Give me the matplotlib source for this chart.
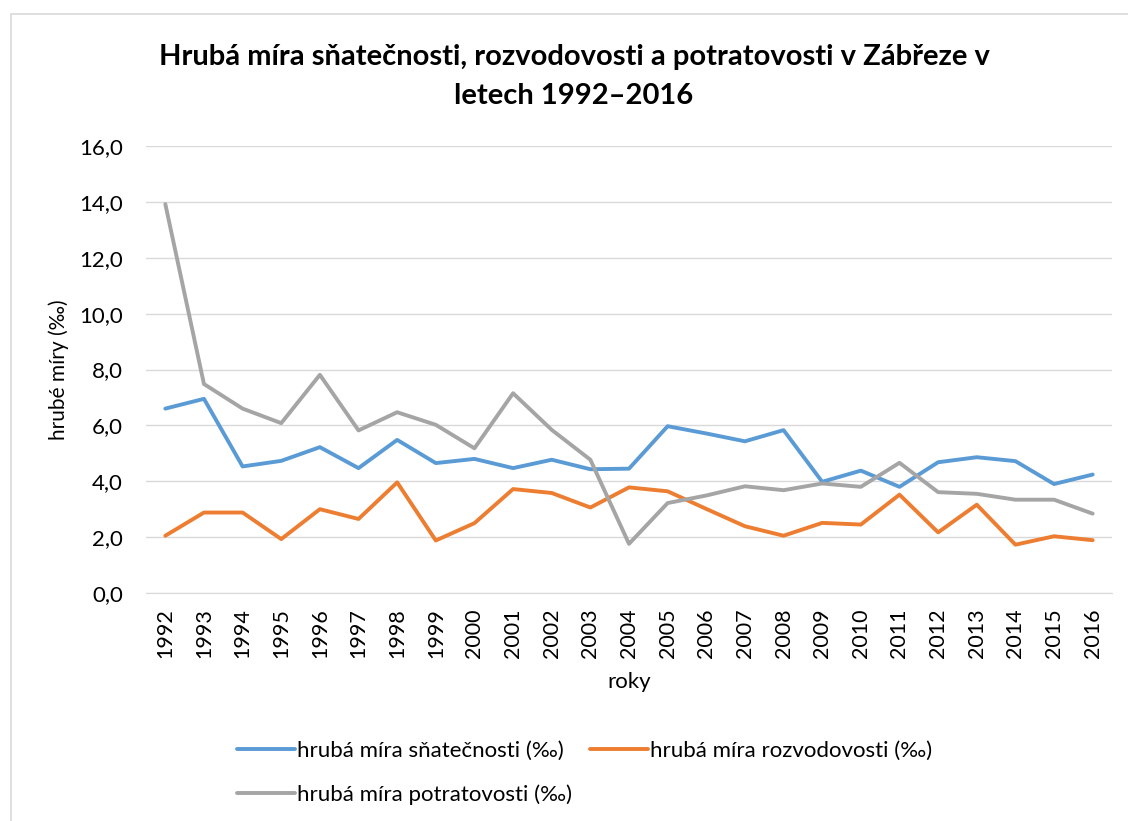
import matplotlib.pyplot as plt
from matplotlib.patches import Rectangle

plt.rcParams["font.family"] = ["Lato", "DejaVu Sans"]

years = [str(y) for y in range(1992, 2017)]
snatecnost = [6.60, 6.95, 4.53, 4.73, 5.22, 4.47, 5.48, 4.65, 4.80, 4.47, 4.77, 4.43, 4.45,
              5.97, 5.71, 5.43, 5.83, 3.98, 4.38, 3.80, 4.68, 4.86, 4.72, 3.90, 4.24]
rozvodovost = [2.05, 2.88, 2.88, 1.93, 3.00, 2.65, 3.96, 1.88, 2.50, 3.72, 3.58, 3.06, 3.78,
               3.64, 3.01, 2.39, 2.05, 2.51, 2.45, 3.52, 2.17, 3.16, 1.73, 2.03, 1.89]
potratovost = [13.92, 7.48, 6.60, 6.08, 7.81, 5.82, 6.47, 6.02, 5.18, 7.15, 5.84, 4.77, 1.76,
               3.22, 3.49, 3.82, 3.68, 3.92, 3.80, 4.66, 3.61, 3.55, 3.34, 3.34, 2.84]
yticks = [0, 2, 4, 6, 8, 10, 12, 14, 16]

W, H = 1128, 821
fig = plt.figure(figsize=(W / 100, H / 100), dpi=100)
ax = fig.add_axes([146 / W, 1 - 593 / H, (1112 - 146) / W, (593 - 146) / H])

# chart border (right and bottom edges fall outside the image)
fig.patches.append(Rectangle((10.5 / W, -0.1), 1.2, 1 - 14.5 / H + 0.1,
                             transform=fig.transFigure, fill=False,
                             edgecolor="#D9D9D9", linewidth=1.2))

x = list(range(len(years)))
l1, = ax.plot(x, snatecnost, color="#5B9BD5", lw=2.8, solid_capstyle="round",
              label="hrubá míra sňatečnosti (‰)")
l2, = ax.plot(x, rozvodovost, color="#ED7D31", lw=2.8, solid_capstyle="round",
              label="hrubá míra rozvodovosti (‰)")
l3, = ax.plot(x, potratovost, color="#A5A5A5", lw=2.8, solid_capstyle="round",
              label="hrubá míra potratovosti (‰)")

ax.set_xlim(-0.5, len(years) - 0.5)
ax.set_ylim(0, 16)
ax.set_yticks(yticks)
ax.set_yticklabels([f"{v:.1f}".replace(".", ",") for v in yticks], fontsize=16)
ax.set_xticks(x)
ax.set_xticklabels(years, rotation=90, fontsize=15.5)
ax.tick_params(length=0)
ax.tick_params(axis="x", pad=11)
ax.tick_params(axis="y", pad=16.5)
ax.grid(axis="y", color="#D9D9D9", lw=1)
ax.set_axisbelow(True)
for s in ["top", "right", "left"]:
    ax.spines[s].set_visible(False)
ax.spines["bottom"].set_color("#D9D9D9")

ax.set_xlabel("roky", fontsize=16, labelpad=10)
ax.set_ylabel("hrubé míry (‰)", fontsize=15, labelpad=7)

fig.text(574 / W, 1 - 57 / H, "Hrubá míra sňatečnosti, rozvodovosti a potratovosti v Zábřeze v",
         ha="center", va="center", fontsize=21, fontweight="bold")
fig.text(574 / W, 1 - 96 / H, "letech 1992–2016",
         ha="center", va="center", fontsize=21, fontweight="bold")

# reorder so the rows read blue, orange / gray
fig.legend([l1, l3, l2], [l1.get_label(), l3.get_label(), l2.get_label()],
           ncol=2, loc="upper left", bbox_to_anchor=(217 / W, 1 - 721 / H),
           frameon=False, fontsize=16, handlelength=2.6, handletextpad=0.1,
           columnspacing=0.8, labelspacing=1.05)

fig.savefig("out.png", dpi=100)
